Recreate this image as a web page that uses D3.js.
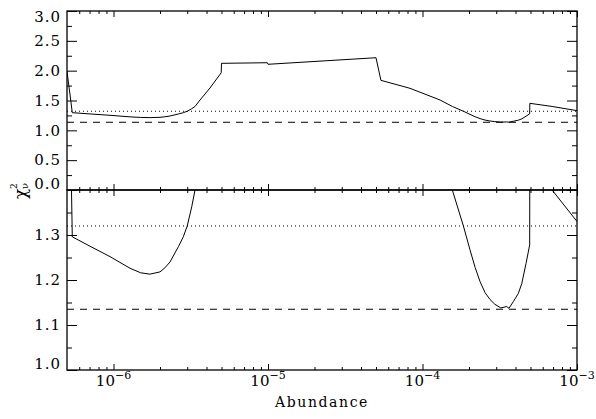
<!DOCTYPE html>
<html>
<head>
<meta charset="utf-8">
<script src="https://cdn.jsdelivr.net/npm/d3@7"></script>
<style>
  body { margin: 0; background: #fff; }
  svg { display: block; }
</style>
</head>
<body>
<script>
// chi^2_nu vs abundance
var abundance = [5.0e-7, 5.41e-7, 7.05e-7, 9.49e-7, 1.28e-6, 1.5e-6, 1.72e-6, 2.0e-6, 2.15e-6, 2.32e-6,
  2.63e-6, 2.83e-6, 3.0e-6, 3.21e-6, 3.37e-6, 3.63e-6, 4.21e-6, 4.98e-6, 5.0e-6, 9.9e-6,
  1.0e-5, 5.0e-5, 5.38e-5, 8.3e-5, 1.30e-4, 1.56e-4, 1.84e-4, 2.03e-4, 2.19e-4, 2.36e-4,
  2.54e-4, 2.73e-4, 2.94e-4, 3.21e-4, 3.51e-4, 3.63e-4, 3.87e-4, 4.17e-4, 4.39e-4, 4.68e-4,
  4.94e-4, 4.95e-4, 6.9e-4, 1.0e-3];
var chi2 = [1.99, 1.296, 1.275, 1.252, 1.226, 1.216, 1.213, 1.218, 1.227, 1.240,
  1.274, 1.296, 1.32, 1.363, 1.40, 1.508, 1.709, 1.966, 2.123, 2.133,
  2.107, 2.217, 1.838, 1.704, 1.508, 1.40, 1.32, 1.267, 1.228, 1.196,
  1.172, 1.157, 1.146, 1.138, 1.141, 1.137, 1.152, 1.170, 1.192, 1.237,
  1.278, 1.453, 1.40, 1.33];

var dottedLevel = 1.32;
var dashedLevel = 1.135;

var topMajor = [0, 0.5, 1.0, 1.5, 2.0, 2.5, 3.0];
var topMinor = [0.25, 0.75, 1.25, 1.75, 2.25, 2.75];
var botMajor = [1.0, 1.1, 1.2, 1.3];
var botMinor = [1.05, 1.15, 1.25, 1.35];
var xMajor = [1e-6, 1e-5, 1e-4, 1e-3];
var xLabels = ["-6", "-5", "-4", "-3"];

var FONT = "'DejaVu Serif', 'Liberation Serif', serif";
var width = 596, height = 419;
var left = 67, right = 577, top1 = 11, mid = 190, bot = 370;

var svg = d3.select("body").append("svg").attr("width", width).attr("height", height);

var x = d3.scaleLog().domain([5e-7, 1e-3]).range([left, right]);
var yTop = d3.scaleLinear().domain([0, 3]).range([mid, top1]);
var yBot = d3.scaleLinear().domain([1.0, 1.4]).range([bot, mid]);

// minor log ticks 2..9 x 10^k inside the domain
var xMinor = [];
for (var k = -7; k <= -4; k++) {
  for (var m = 2; m <= 9; m++) {
    var v = m * Math.pow(10, k);
    if (v > 5e-7 && v < 1e-3) xMinor.push(v);
  }
}

var defs = svg.append("defs");
defs.append("clipPath").attr("id", "clipTop").append("rect")
  .attr("x", left).attr("y", top1).attr("width", right - left).attr("height", mid - top1);
defs.append("clipPath").attr("id", "clipBot").append("rect")
  .attr("x", left).attr("y", mid).attr("width", right - left).attr("height", bot - mid);

function styleAxis(g) {
  g.attr("font-family", FONT);
  g.select(".domain").remove();
  g.selectAll("line").attr("stroke", "#000").attr("stroke-width", 1);
  g.selectAll("text").attr("font-family", FONT).attr("font-size", "15px").attr("letter-spacing", "1px");
}

function panel(yScale, major, minor, clipId, yT, yB) {
  // left axis, ticks pointing inward
  var gl = svg.append("g").attr("transform", "translate(" + left + ",0)")
    .call(d3.axisLeft(yScale).tickValues(major).tickSize(-10).tickPadding(6).tickFormat(d3.format(".1f")));
  styleAxis(gl);
  gl.selectAll("text").attr("x", -6)
    .attr("y", function(d) {
      var p = yScale(d);
      if (p - 6 < yT) return yT + 6 - p;
      if (p + 6 > yB) return yB - 6 - p;
      return 0;
    });
  svg.append("g").attr("transform", "translate(" + left + ",0)")
    .call(d3.axisLeft(yScale).tickValues(minor).tickSize(-5).tickFormat(""))
    .call(styleAxis);
  // right axis
  svg.append("g").attr("transform", "translate(" + right + ",0)")
    .call(d3.axisRight(yScale).tickValues(major).tickSize(-10).tickFormat(""))
    .call(styleAxis);
  svg.append("g").attr("transform", "translate(" + right + ",0)")
    .call(d3.axisRight(yScale).tickValues(minor).tickSize(-5).tickFormat(""))
    .call(styleAxis);
  // top and bottom x ticks
  svg.append("g").attr("transform", "translate(0," + yT + ")")
    .call(d3.axisTop(x).tickValues(xMajor).tickSize(-6).tickFormat(""))
    .call(styleAxis);
  svg.append("g").attr("transform", "translate(0," + yT + ")")
    .call(d3.axisTop(x).tickValues(xMinor).tickSize(-3).tickFormat(""))
    .call(styleAxis);
  svg.append("g").attr("transform", "translate(0," + yB + ")")
    .call(d3.axisBottom(x).tickValues(xMajor).tickSize(-6).tickFormat(""))
    .call(styleAxis);
  svg.append("g").attr("transform", "translate(0," + yB + ")")
    .call(d3.axisBottom(x).tickValues(xMinor).tickSize(-3).tickFormat(""))
    .call(styleAxis);

  var plot = svg.append("g").attr("clip-path", "url(#" + clipId + ")");
  plot.append("line")
    .attr("x1", left).attr("x2", right)
    .attr("y1", yScale(dottedLevel)).attr("y2", yScale(dottedLevel))
    .attr("stroke", "#000").attr("stroke-width", 1).attr("stroke-dasharray", "1,3");
  plot.append("line")
    .attr("x1", left).attr("x2", right)
    .attr("y1", yScale(dashedLevel)).attr("y2", yScale(dashedLevel))
    .attr("stroke", "#000").attr("stroke-width", 1).attr("stroke-dasharray", "7,6");

  var line = d3.line()
    .x(function(d, i) { return x(abundance[i]); })
    .y(function(d) { return yScale(d); });
  plot.append("path")
    .datum(chi2)
    .attr("d", line)
    .attr("fill", "none")
    .attr("stroke", "#000")
    .attr("stroke-width", 1);

  svg.append("rect")
    .attr("x", left).attr("y", yT).attr("width", right - left).attr("height", yB - yT)
    .attr("fill", "none").attr("stroke", "#000").attr("stroke-width", 1.3);
}

panel(yTop, topMajor, topMinor, "clipTop", top1, mid);
panel(yBot, botMajor, botMinor, "clipBot", mid, bot);

// x tick labels 10^k
var xl = svg.append("g").selectAll("text").data(xMajor).enter().append("text")
  .attr("x", function(d) { return x(d); })
  .attr("y", 386)
  .attr("text-anchor", "middle")
  .attr("font-family", FONT)
  .attr("font-size", "15px");
xl.append("tspan").text("10");
xl.append("tspan").attr("dy", -7).attr("font-size", "11px").text(function(d, i) { return xLabels[i].replace("-", "\u2212"); });

svg.append("text")
  .attr("x", (left + right) / 2)
  .attr("y", 407)
  .attr("text-anchor", "middle")
  .attr("font-family", FONT)
  .attr("font-size", "14px")
  .attr("letter-spacing", "1.6px")
  .text("Abundance");

// y label chi^2_nu, rotated
var yl = svg.append("g").attr("transform", "translate(26,199) rotate(-90)").attr("font-family", FONT);
yl.append("text").attr("x", 0).attr("y", 0).attr("font-size", "17px").text("\u03c7");
yl.append("text").attr("x", 10).attr("y", -9).attr("font-size", "9px").text("2");
yl.append("text").attr("x", 10).attr("y", 2).attr("font-size", "10px").text("\u03bd");
</script>
</body>
</html>
